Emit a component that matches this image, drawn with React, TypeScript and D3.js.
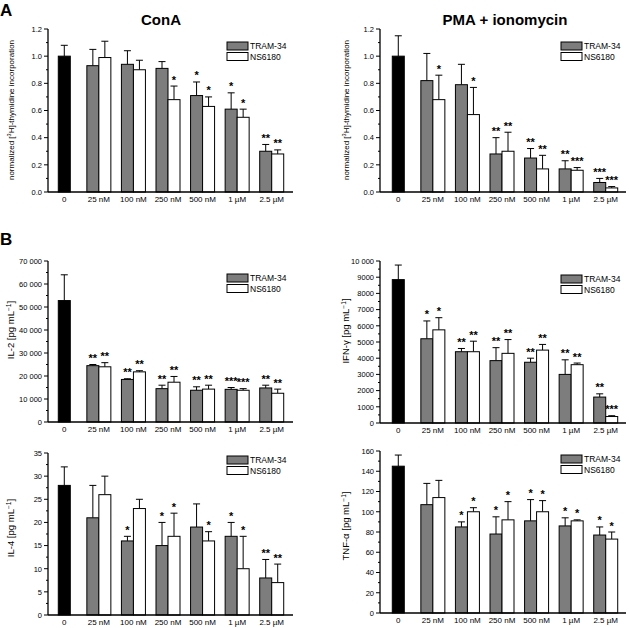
import React from "react";
import * as d3 from "d3";

const categories = ["0", "25 nM", "100 nM", "250 nM", "500 nM", "1 µM", "2.5 µM"];
const seriesNames = ["TRAM-34", "NS6180"];

// Panel A left: ConA
const conaControl = [1.0, 1.08];
const conaTram = [0.93, 0.94, 0.91, 0.71, 0.61, 0.3];
const conaTramErr = [1.05, 1.04, 0.96, 0.81, 0.73, 0.35];
const conaTramStars = ["", "", "", "*", "*", "**"];
const conaNs = [0.99, 0.9, 0.68, 0.63, 0.55, 0.28];
const conaNsErr = [1.11, 0.97, 0.78, 0.7, 0.61, 0.31];
const conaNsStars = ["", "", "*", "*", "*", "**"];

// Panel A right: PMA + ionomycin
const pmaControl = [1.0, 1.15];
const pmaTram = [0.82, 0.79, 0.28, 0.25, 0.17, 0.07];
const pmaTramErr = [1.02, 0.94, 0.4, 0.32, 0.23, 0.1];
const pmaTramStars = ["", "", "**", "**", "**", "***"];
const pmaNs = [0.68, 0.57, 0.3, 0.17, 0.16, 0.03];
const pmaNsErr = [0.86, 0.77, 0.44, 0.27, 0.18, 0.04];
const pmaNsStars = ["*", "*", "**", "**", "***", "***"];

// IL-2
const il2Control = [52800, 64000];
const il2Tram = [24500, 18500, 14500, 13800, 14200, 14800];
const il2TramErr = [25000, 18800, 16000, 15300, 15000, 16000];
const il2TramStars = ["**", "**", "**", "**", "***", "**"];
const il2Ns = [24000, 21800, 17300, 14300, 13800, 12500];
const il2NsErr = [25800, 22300, 19800, 16000, 14500, 14300];
const il2NsStars = ["**", "**", "**", "**", "***", "**"];

// IFN-gamma
const ifnControl = [8850, 9750];
const ifnTram = [5200, 4400, 3850, 3750, 3000, 1600];
const ifnTramErr = [6300, 4600, 4650, 4000, 3900, 1800];
const ifnTramStars = ["*", "**", "**", "**", "**", "**"];
const ifnNs = [5750, 4400, 4300, 4500, 3600, 400];
const ifnNsErr = [6500, 5050, 5150, 4850, 3700, 450];
const ifnNsStars = ["*", "**", "**", "**", "**", "***"];

// IL-4
const il4Control = [28, 32];
const il4Tram = [21, 16, 15, 19, 17, 8];
const il4TramErr = [28, 17, 20, 24, 20, 12];
const il4TramStars = ["", "*", "*", "", "*", "**"];
const il4Ns = [26, 23, 17, 16, 10, 7];
const il4NsErr = [30, 25, 22, 18, 17, 11];
const il4NsStars = ["", "", "*", "*", "*", "**"];

// TNF-alpha
const tnfControl = [145, 156];
const tnfTram = [107, 85, 78, 91, 86, 77];
const tnfTramErr = [128, 90, 95, 112, 94, 85];
const tnfTramStars = ["", "*", "*", "*", "*", "*"];
const tnfNs = [114, 100, 92, 100, 91, 73];
const tnfNsErr = [131, 104, 110, 111, 92, 80];
const tnfNsStars = ["", "*", "*", "*", "*", "*"];

const FONT = "'Liberation Sans', Arial, sans-serif";
const GRAY = "#7d7d7d";

type PanelData = {
  control: number[];
  tram: number[];
  tramErr: number[];
  tramStars: string[];
  ns: number[];
  nsErr: number[];
  nsStars: string[];
};

type PanelCfg = {
  axisX: number;
  axisEnd: number;
  bandStart: number;
  bandEnd: number;
  yBottom: number;
  yTop: number;
  max: number;
  step: number;
  minor: number;
  fmt: (d: number) => string;
  labelX: number;
  labelY: number;
  labelMain: string;
  labelSup: string;
  labelTail: string;
  labelPre?: string;
  labelSize: number;
  legendX: number;
  legendY: number;
};

function Panel({ cfg, data }: { cfg: PanelCfg; data: PanelData }) {
  const y = d3.scaleLinear().domain([0, cfg.max]).range([cfg.yBottom, cfg.yTop]);
  const x = d3.scaleBand<string>().domain(categories).range([cfg.bandStart, cfg.bandEnd]).padding(0);
  const bw = 12;
  const major = d3.range(0, cfg.max + cfg.step / 2, cfg.step);
  const minor = d3.range(cfg.minor, cfg.max, cfg.step);
  const cap = 3.5;

  const bar = (cx: number, v: number, e: number, fill: string, stars: string, key: string) => {
    const top = y(v);
    const et = y(e);
    return (
      <g key={key}>
        {e > v && (
          <g stroke="#000" strokeWidth={1}>
            <line x1={cx + bw / 2} x2={cx + bw / 2} y1={top} y2={et} />
            <line x1={cx + bw / 2 - cap} x2={cx + bw / 2 + cap} y1={et} y2={et} />
          </g>
        )}
        <rect x={cx} y={top} width={bw} height={y(0) - top} fill={fill} stroke="#000" strokeWidth={1} />
        {stars && (
          <text
            x={cx + bw / 2}
            y={Math.min(et, top) - 2.5}
            textAnchor="middle"
            fontSize={11}
            fontWeight="bold"
            fill="#000"
            fontFamily={FONT}
          >
            {stars}
          </text>
        )}
      </g>
    );
  };

  return (
    <g>
      {categories.map((c, i) => {
        const cx = (x(c) as number) + x.bandwidth() / 2;
        if (i === 0) return bar(cx - bw / 2, data.control[0], data.control[1], "#000", "", "c");
        return (
          <g key={c}>
            {bar(cx - bw, data.tram[i - 1], data.tramErr[i - 1], GRAY, data.tramStars[i - 1], "t")}
            {bar(cx, data.ns[i - 1], data.nsErr[i - 1], "#fff", data.nsStars[i - 1], "n")}
          </g>
        );
      })}
      {/* y axis */}
      <line x1={cfg.axisX} x2={cfg.axisX} y1={y(cfg.max)} y2={y(0)} stroke="#000" strokeWidth={1.3} />
      {major.map((t) => (
        <g key={"M" + t}>
          <line x1={cfg.axisX - 4} x2={cfg.axisX} y1={y(t)} y2={y(t)} stroke="#000" strokeWidth={1} />
          <text x={cfg.axisX - 6} y={y(t) + 2.8} textAnchor="end" fontSize={7.5} fontFamily={FONT}>
            {cfg.fmt(t)}
          </text>
        </g>
      ))}
      {minor.map((t) => (
        <line key={"m" + t} x1={cfg.axisX - 2} x2={cfg.axisX} y1={y(t)} y2={y(t)} stroke="#000" strokeWidth={1} />
      ))}
      {/* x axis */}
      <line x1={cfg.axisX} x2={cfg.axisEnd} y1={y(0)} y2={y(0)} stroke="#000" strokeWidth={1.5} />
      {categories.map((c) => (
        <text
          key={"xl" + c}
          x={(x(c) as number) + x.bandwidth() / 2}
          y={y(0) + 9.5}
          textAnchor="middle"
          fontSize={8}
          fontFamily={FONT}
        >
          {c}
        </text>
      ))}
      {/* y label */}
      <text
        transform={`translate(${cfg.labelX},${cfg.labelY}) rotate(-90)`}
        textAnchor="middle"
        fontSize={cfg.labelSize}
        fontFamily={FONT}
      >
        {cfg.labelPre}
        {cfg.labelPre !== undefined ? (
          <>
            <tspan fontSize={cfg.labelSize * 0.7} dy={-3}>
              {cfg.labelSup}
            </tspan>
            <tspan dy={3}>{cfg.labelTail}</tspan>
          </>
        ) : (
          <>
            {cfg.labelMain}
            <tspan fontSize={cfg.labelSize * 0.7} dy={-3.5}>
              {cfg.labelSup}
            </tspan>
            <tspan dy={3.5}>{cfg.labelTail}</tspan>
          </>
        )}
      </text>
      {/* legend */}
      {seriesNames.map((s, i) => (
        <g key={s}>
          <rect
            x={cfg.legendX}
            y={cfg.legendY + i * 10.5}
            width={21}
            height={8}
            fill={i === 0 ? GRAY : "#fff"}
            stroke="#000"
            strokeWidth={1}
          />
          <text x={cfg.legendX + 23} y={cfg.legendY + i * 10.5 + 7.3} fontSize={8.5} fontFamily={FONT}>
            {s}
          </text>
        </g>
      ))}
    </g>
  );
}

const fmtA = (d: number) => d3.format(".1f")(d);
const fmtThousands = (d: number) => (d >= 10000 ? d3.format(",")(d).replace(",", " ") : String(d));
const fmtPlain = (d: number) => String(d);

export default function App() {
  const leftBase = { axisX: 48, axisEnd: 293, bandStart: 47, bandEnd: 289, labelX: 14, legendX: 227 };
  const rightBase = { axisX: 380, axisEnd: 626, bandStart: 381, bandEnd: 623, labelX: 349, legendX: 561 };

  const panels: { cfg: PanelCfg; data: PanelData }[] = [
    {
      cfg: {
        ...leftBase,
        yBottom: 192, yTop: 29, max: 1.2, step: 0.2, minor: 0.1, fmt: fmtA,
        labelY: 110, labelPre: "normalized [", labelMain: "", labelSup: "3", labelTail: "H]-thymidine incorporation",
        labelSize: 8, legendY: 42,
      },
      data: { control: conaControl, tram: conaTram, tramErr: conaTramErr, tramStars: conaTramStars, ns: conaNs, nsErr: conaNsErr, nsStars: conaNsStars },
    },
    {
      cfg: {
        ...rightBase,
        yBottom: 192, yTop: 29, max: 1.2, step: 0.2, minor: 0.1, fmt: fmtA,
        labelY: 110, labelPre: "normalized [", labelMain: "", labelSup: "3", labelTail: "H]-thymidine incorporation",
        labelSize: 8, legendY: 42,
      },
      data: { control: pmaControl, tram: pmaTram, tramErr: pmaTramErr, tramStars: pmaTramStars, ns: pmaNs, nsErr: pmaNsErr, nsStars: pmaNsStars },
    },
    {
      cfg: {
        ...leftBase,
        yBottom: 422, yTop: 261, max: 70000, step: 10000, minor: 5000, fmt: fmtThousands,
        labelY: 330, labelMain: "IL-2 [pg mL", labelSup: "−1", labelTail: "]", labelSize: 9.5, legendY: 274,
      },
      data: { control: il2Control, tram: il2Tram, tramErr: il2TramErr, tramStars: il2TramStars, ns: il2Ns, nsErr: il2NsErr, nsStars: il2NsStars },
    },
    {
      cfg: {
        ...rightBase,
        yBottom: 423, yTop: 261, max: 10000, step: 1000, minor: 500, fmt: fmtThousands,
        labelY: 331, labelMain: "IFN-γ [pg mL", labelSup: "−1", labelTail: "]", labelSize: 9.5, legendY: 275,
      },
      data: { control: ifnControl, tram: ifnTram, tramErr: ifnTramErr, tramStars: ifnTramStars, ns: ifnNs, nsErr: ifnNsErr, nsStars: ifnNsStars },
    },
    {
      cfg: {
        ...leftBase,
        yBottom: 615, yTop: 453, max: 35, step: 5, minor: 2.5, fmt: fmtPlain,
        labelY: 528, labelMain: "IL-4 [pg mL", labelSup: "−1", labelTail: "]", labelSize: 9.5, legendY: 456,
      },
      data: { control: il4Control, tram: il4Tram, tramErr: il4TramErr, tramStars: il4TramStars, ns: il4Ns, nsErr: il4NsErr, nsStars: il4NsStars },
    },
    {
      cfg: {
        ...rightBase,
        yBottom: 613, yTop: 451, max: 160, step: 20, minor: 10, fmt: fmtPlain,
        labelY: 526, labelMain: "TNF-α [pg mL", labelSup: "−1", labelTail: "]", labelSize: 9.5, legendY: 455,
      },
      data: { control: tnfControl, tram: tnfTram, tramErr: tnfTramErr, tramStars: tnfTramStars, ns: tnfNs, nsErr: tnfNsErr, nsStars: tnfNsStars },
    },
  ];

  return (
    <svg
      width={629}
      height={628}
      viewBox="0 0 629 628"
      style={{ position: "absolute", left: 0, top: 0, background: "#fff" }}
    >
      <rect width={629} height={628} fill="#fff" />
      <text x={0} y={16} fontSize={17} fontWeight="bold" fontFamily={FONT}>A</text>
      <text x={0} y={245} fontSize={17} fontWeight="bold" fontFamily={FONT}>B</text>
      <text x={161} y={25} textAnchor="middle" fontSize={15} fontWeight="bold" fontFamily={FONT}>ConA</text>
      <text x={505} y={25} textAnchor="middle" fontSize={15} fontWeight="bold" fontFamily={FONT}>PMA + ionomycin</text>
      {panels.map((p, i) => (
        <Panel key={i} cfg={p.cfg} data={p.data} />
      ))}
    </svg>
  );
}
